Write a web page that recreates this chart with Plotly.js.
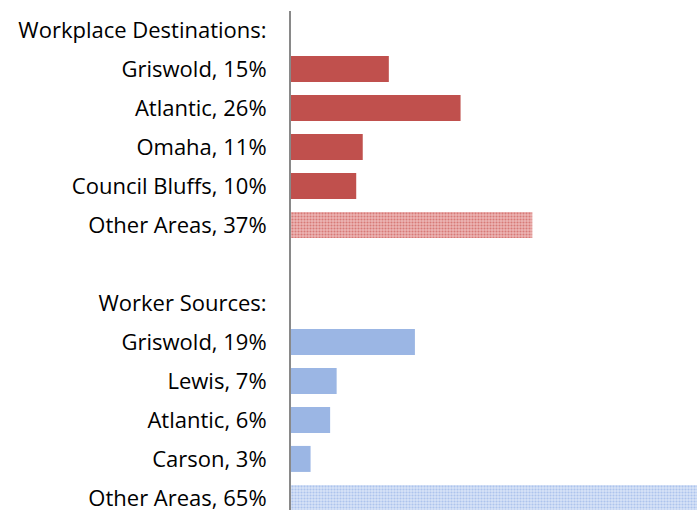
<!DOCTYPE html>
<html>
<head>
<meta charset="utf-8">
<script src="https://cdn.plot.ly/plotly-3.0.1.min.js"></script>
<style>html,body{margin:0;padding:0;background:#fff;}#chart{width:697px;height:510px;}</style>
</head>
<body>
<div id="chart"></div>
<script>
// Data
var destHeader = "Workplace Destinations:";
var destLabels = ["Griswold, 15%", "Atlantic, 26%", "Omaha, 11%", "Council Bluffs, 10%"];
var destValues = [15, 26, 11, 10];
var destOtherLabel = "Other Areas, 37%";
var destOtherValue = 37;

var srcHeader = "Worker Sources:";
var srcLabels = ["Griswold, 19%", "Lewis, 7%", "Atlantic, 6%", "Carson, 3%"];
var srcValues = [19, 7, 6, 3];
var srcOtherLabel = "Other Areas, 65%";
var srcOtherValue = 65;

var spacer = " ";
var categoryOrder = [destHeader].concat(destLabels, [destOtherLabel, spacer, srcHeader], srcLabels, [srcOtherLabel]);

var red = "#c0504d", blue = "#9bb6e4";

var traces = [
  {type: "bar", orientation: "h", y: destLabels, x: destValues, marker: {color: red}, hoverinfo: "skip"},
  {type: "bar", orientation: "h", y: [destOtherLabel], x: [destOtherValue],
   marker: {color: "#ecb6b5", pattern: {shape: ".", fgcolor: "#d77a77", bgcolor: "#ecb6b5", size: 3, solidity: 0.4}}, hoverinfo: "skip"},
  {type: "bar", orientation: "h", y: srcLabels, x: srcValues, marker: {color: blue}, hoverinfo: "skip"},
  {type: "bar", orientation: "h", y: [srcOtherLabel], x: [srcOtherValue],
   marker: {color: "#d8e3f7", pattern: {shape: ".", fgcolor: "#adc4ed", bgcolor: "#d8e3f7", size: 3, solidity: 0.4}}, hoverinfo: "skip"}
];

var layout = {
  width: 697, height: 510,
  margin: {l: 291, r: 0, t: 11, b: 0, pad: 0},
  paper_bgcolor: "#fff", plot_bgcolor: "#fff",
  showlegend: false,
  barmode: "overlay",
  bargap: 0.333,
  font: {family: "'Open Sans', sans-serif", size: 22, color: "#000"},
  xaxis: {range: [0, 62.25], showgrid: false, zeroline: false, showticklabels: false, showline: false, ticks: "", fixedrange: true},
  yaxis: {type: "category", categoryorder: "array", categoryarray: categoryOrder,
          range: [12.31, -0.49], showgrid: false, zeroline: false, showline: true,
          linecolor: "#898989", linewidth: 2, ticks: "", ticklabelstandoff: 18,
          tickfont: {size: 22, color: "#000"}, fixedrange: true}
};

// ensure all categories appear (header and spacer rows)
traces.push({type: "bar", orientation: "h", y: categoryOrder, x: categoryOrder.map(function(){return 0;}),
  marker: {color: "rgba(0,0,0,0)"}, hoverinfo: "skip"});

Plotly.newPlot("chart", traces, layout, {staticPlot: true, displayModeBar: false});
</script>
</body>
</html>
